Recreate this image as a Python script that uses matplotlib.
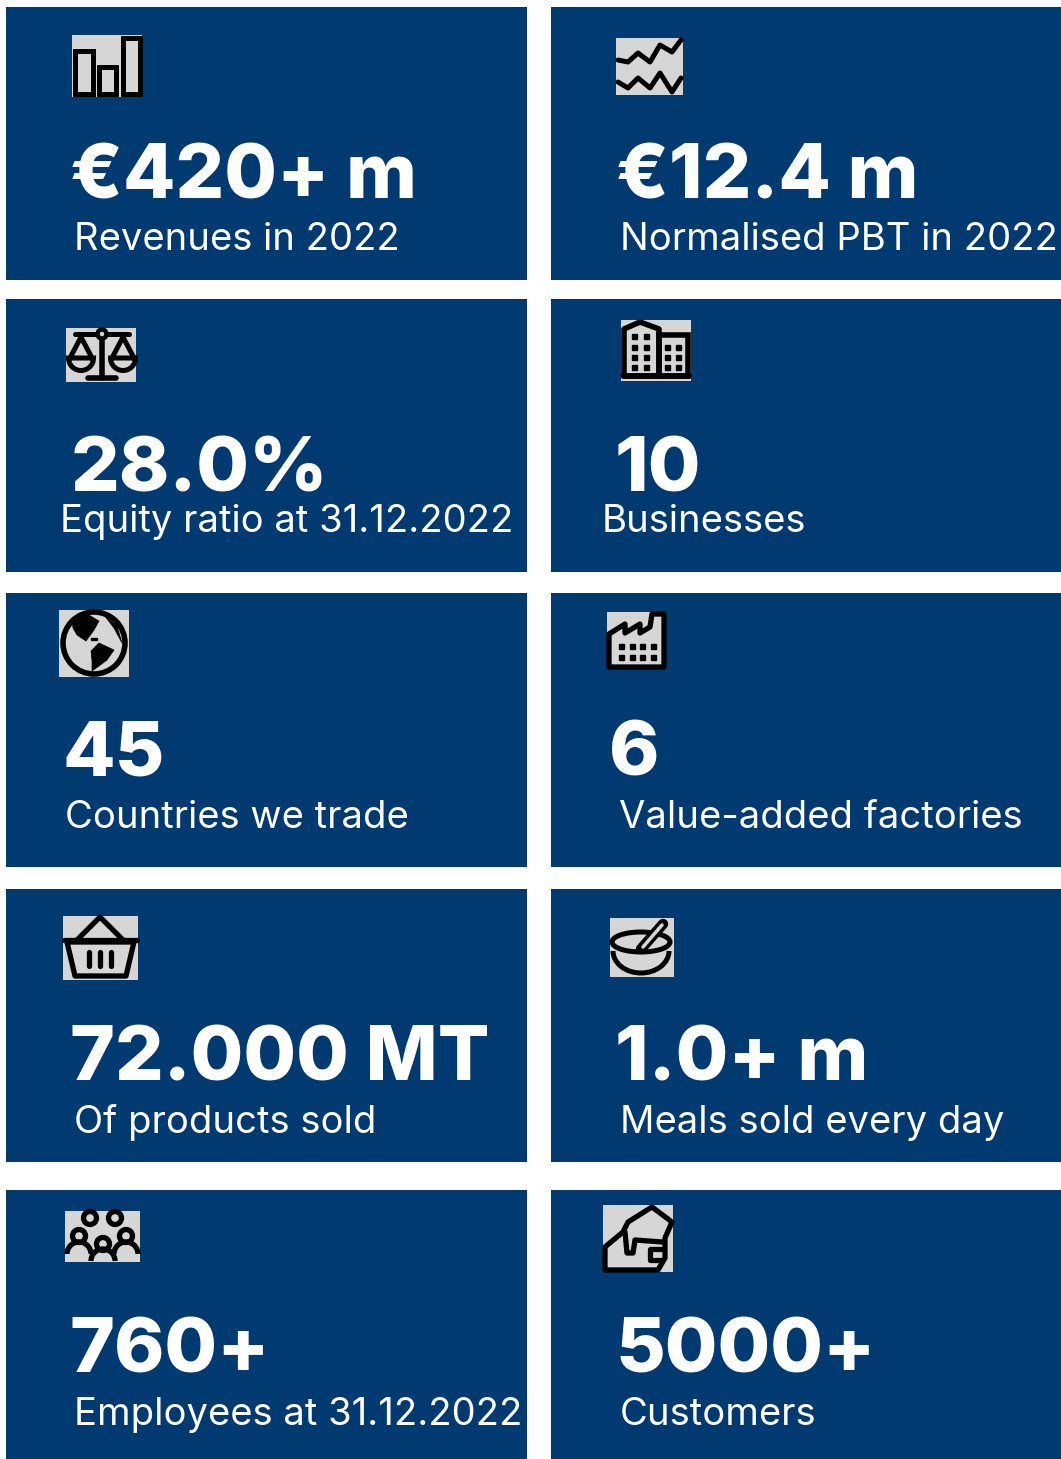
import matplotlib
matplotlib.use('Agg')
import matplotlib.pyplot as plt
from matplotlib.patches import Rectangle, Circle, Polygon, Wedge, Ellipse, Arc

W, H = 1061, 1459
BLUE = '#003a70'
GREY = '#d6d6d6'

# big figure, caption, one row per card
left_values = ['€420+ m', '28.0%', '45', '72.000 MT', '760+']
left_captions = ['Revenues in 2022', 'Equity ratio at 31.12.2022', 'Countries we trade',
                 'Of products sold', 'Employees at 31.12.2022']
right_values = ['€12.4 m', '10', '6', '1.0+ m', '5000+']
right_captions = ['Normalised PBT in 2022', 'Businesses', 'Value-added factories',
                  'Meals sold every day', 'Customers']

row_tops = [7, 299, 593, 889, 1190]
row_bottoms = [280, 572, 867, 1162, 1459]
left_value_xy = [(70, 172), (71, 465), (62, 749), (70, 1054), (70, 1346)]
left_caption_xy = [(74, 238), (60, 520), (65, 816), (74, 1121), (74, 1413)]
right_value_xy = [(616, 172), (615, 465), (609, 749), (615, 1054), (616, 1346)]
right_caption_xy = [(620, 238), (602, 520), (619, 816), (620, 1121), (620, 1413)]
left_boxes = [(72, 35, 70, 62), (66, 328, 70, 54), (59, 610, 70, 67), (63, 916, 75, 64), (65, 1211, 75, 51)]
right_boxes = [(616, 38, 67, 57), (621, 320, 70, 61), (607, 612, 59, 57), (610, 918, 64, 59), (603, 1205, 70, 67)]

fig = plt.figure(figsize=(W / 100, H / 100), dpi=100)
ax = fig.add_axes([0, 0, 1, 1])
ax.set_xlim(0, W)
ax.set_ylim(H, 0)
ax.axis('off')


def line(xs, ys, lw=3.6, color='black', zorder=4):
    ax.plot(xs, ys, color=color, lw=lw, solid_capstyle='round', solid_joinstyle='round', zorder=zorder)


def rect(x, y, w, h, lw=3.6, fc='none'):
    ax.add_patch(Rectangle((x, y), w, h, fc=fc, ec='black', lw=lw, joinstyle='miter', zorder=4))


def shape(x, y, rel, fc='none', lw=3.6, zorder=4):
    pts = [(x + px, y + py) for px, py in rel]
    ax.add_patch(Polygon(pts, fc=fc, ec='black', lw=lw, joinstyle='round', zorder=zorder))


def windows(x, y, cols, rows, size=5):
    for cx in cols:
        for cy in rows:
            ax.add_patch(Rectangle((x + cx - size / 2, y + cy - size / 2), size, size, color='black', zorder=4))


def bars_icon(x, y, w, h):
    rect(x + 3, y + 16, 18, h - 19)
    rect(x + 27, y + 32, 17, h - 35)
    rect(x + 51, y + 3, 17, h - 6)


def wave_icon(x, y, w, h):
    xs = [x + 2, x + 12, x + 22, x + 34, x + 44, x + 56, x + 65]
    line(xs, [y + 22, y + 24, y + 15, y + 24, y + 7, y + 14, y + 2])
    line(xs, [y + 44, y + 50, y + 40, y + 50, y + 35, y + 54, y + 40])


def scales_icon(x, y, w, h):
    line([x + 36, x + 36], [y + 8, y + 50], lw=4)
    line([x + 22, x + 50], [y + 50, y + 50], lw=4)
    line([x + 9, x + 63], [y + 6, y + 6])
    ax.add_patch(Circle((x + 36, y + 6), 4.5, fc=GREY, ec='black', lw=3.2, zorder=5))
    for cx in (x + 15, x + 57):
        line([cx - 11, cx, cx + 11], [y + 30, y + 9, y + 30])
        ax.add_patch(Wedge((cx, y + 30), 12.5, 0, 180, fc='none', ec='black', lw=3.6, zorder=4))


def building_icon(x, y, w, h):
    shape(x, y, [(3, 56), (3, 9), (19, 2), (38, 9), (38, 56)], lw=4)
    rect(x + 38, y + 15, 29, 41, lw=4)
    line([x + 2, x + 68], [y + 56, y + 56], lw=4)
    windows(x, y, [13, 25], [16, 27, 37, 47])
    windows(x, y, [46, 57], [27, 37, 47])


def globe_icon(x, y, w, h):
    cx, cy = x + 35, y + 33
    ax.add_patch(Circle((cx, cy), 31, fc=GREY, ec='black', lw=4, zorder=4))
    shape(cx, cy, [(-22, -23), (-7, -29), (5, -22), (0, -13), (-8, -2), (-17, -8), (-21, -15)], fc='black', lw=0.5, zorder=5)
    shape(cx, cy, [(-3, 8), (5, 0), (20, 7), (13, 17), (5, 23), (-2, 28), (-2, 18)], fc='black', lw=0.5, zorder=5)
    shape(cx, cy, [(10, -28), (23, -17), (28, 0), (20, -15)], fc='black', lw=0.5, zorder=5)
    ax.add_patch(Rectangle((cx - 3, cy - 5), 6, 2, color='black', zorder=5))


def factory_icon(x, y, w, h):
    shape(x, y, [(2, 55), (2, 22), (18, 12), (18, 21), (33, 12), (33, 21), (43, 15), (45, 2), (57, 2), (57, 55)], lw=3.8)
    windows(x, y, [14, 25, 35, 46], [34, 45])


def basket_icon(x, y, w, h):
    line([x + 14, x + 37, x + 60], [y + 24, y + 1, y + 24], lw=3.8)
    line([x + 1, x + w - 1], [y + 24, y + 24], lw=3.8)
    shape(x, y, [(4, 26), (w - 4, 26), (w - 12, 60), (12, 60)], lw=3.8)
    for dx in (26, 37, 48):
        line([x + dx, x + dx], [y + 36, y + 50], lw=3.8)


def bowl_icon(x, y, w, h):
    ax.add_patch(Ellipse((x + 31, y + 24), 58, 20, fc='none', ec='black', lw=3.6, zorder=4))
    ax.add_patch(Arc((x + 31, y + 33), 56, 44, theta1=0, theta2=180, ec='black', lw=3.6, zorder=4))
    line([x + 31, x + 53], [y + 31, y + 6], lw=7.5, zorder=5)
    line([x + 33, x + 52], [y + 29, y + 7], lw=2.5, color=GREY, zorder=6)


def people_icon(x, y, w, h):
    for cx, cy in [(25, 7), (50, 7), (14, 25), (38, 33), (61, 25)]:
        ax.add_patch(Circle((x + cx, y + cy), 6.5, fc='none', ec='black', lw=3.8, zorder=5))
    for cx, base in [(14, 43), (61, 43), (38, 50)]:
        ax.add_patch(Arc((x + cx, y + base), 24, 24, theta1=180, theta2=360, ec='black', lw=3.8, zorder=5))


def hand_icon(x, y, w, h):
    shape(x, y, [(2, 65), (2, 42), (20, 27), (25, 17), (49, 2), (69, 17), (62, 33), (62, 53), (55, 65)], lw=3.8)
    line([x + 22, x + 24, x + 30, x + 32, x + 59], [y + 27, y + 48, y + 48, y + 35, y + 37], lw=3.8)
    line([x + 59, x + 47, x + 47, x + 59], [y + 44, y + 44, y + 55, y + 55], lw=3.8)


left_icons = [bars_icon, scales_icon, globe_icon, basket_icon, people_icon]
right_icons = [wave_icon, building_icon, factory_icon, bowl_icon, hand_icon]


def draw_card(x0, x1, top, bottom, value, value_xy, caption, caption_xy, box, icon):
    ax.add_patch(Rectangle((x0, top), x1 - x0, bottom - top, color=BLUE, lw=0, zorder=1))
    ax.add_patch(Rectangle(box[:2], box[2], box[3], color=GREY, lw=0, zorder=2))
    icon(*box)
    ax.text(value_xy[0], value_xy[1] + 7, value, color='white', fontsize=55, fontweight=800,
            family='Inter', va='center', ha='left', zorder=6)
    ax.text(caption_xy[0], caption_xy[1] + 2, caption, color='white', fontsize=27.5, fontweight='normal',
            family='Inter', va='center', ha='left', zorder=6)


for i in range(5):
    draw_card(6, 527, row_tops[i], row_bottoms[i], left_values[i], left_value_xy[i],
              left_captions[i], left_caption_xy[i], left_boxes[i], left_icons[i])
    draw_card(551, 1061, row_tops[i], row_bottoms[i], right_values[i], right_value_xy[i],
              right_captions[i], right_caption_xy[i], right_boxes[i], right_icons[i])

fig.savefig('out.png', dpi=100, facecolor='white')
